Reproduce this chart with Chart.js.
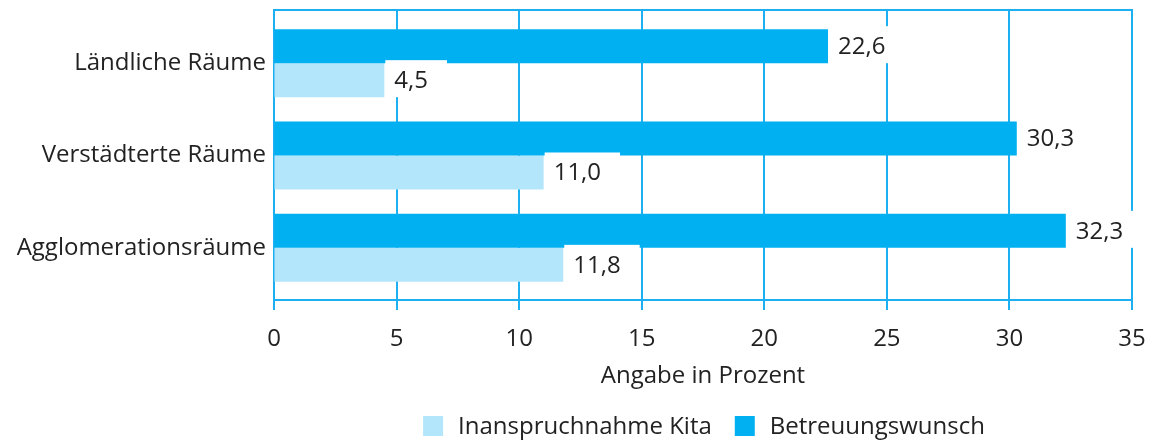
<!DOCTYPE html>
<html>
<head>
<meta charset="utf-8">
<script src="https://cdn.jsdelivr.net/npm/chart.js@4/dist/chart.umd.min.js"></script>
<style>
html, body { margin: 0; padding: 0; background: #fff; }
</style>
</head>
<body>
<canvas id="myChart" width="1152" height="441"></canvas>
<script>
const categories = ['Ländliche Räume', 'Verstädterte Räume', 'Agglomerationsräume'];
const betreuungswunsch = [22.6, 30.3, 32.3];
const inanspruchnahmeKita = [4.5, 11.0, 11.8];
const xTicks = [0, 5, 10, 15, 20, 25, 30, 35];

const gridColor = '#1cb0f2';
const textColor = '#222222';
const fontFamily = "'Open Sans', 'Noto Sans', sans-serif";
const fontSize = 24;

// frame + gridlines, a bit taller than the bar area
const framePlugin = {
    id: 'frame',
    beforeDatasetsDraw(chart) {
        const { ctx, chartArea: a, scales: { x } } = chart;
        const top = a.top - 7, bottom = a.bottom + 6;
        ctx.save();
        ctx.strokeStyle = gridColor;
        ctx.lineWidth = 2;
        ctx.beginPath();
        xTicks.forEach(v => {
            const px = Math.round(x.getPixelForValue(v));
            ctx.moveTo(px, top);
            ctx.lineTo(px, bottom + 10);
        });
        ctx.moveTo(a.left - 1, top);
        ctx.lineTo(a.right + 1, top);
        ctx.moveTo(a.left - 1, bottom);
        ctx.lineTo(a.right + 1, bottom);
        ctx.stroke();
        ctx.restore();
    }
};

// value labels on white boxes
const labelPlugin = {
    id: 'valueLabels',
    afterDatasetsDraw(chart) {
        const { ctx } = chart;
        ctx.save();
        ctx.font = fontSize + 'px ' + fontFamily;
        ctx.textBaseline = 'middle';
        [1, 0].forEach(i => {
            const ds = chart.data.datasets[i];
            chart.getDatasetMeta(i).data.forEach((bar, j) => {
                const txt = ds.data[j].toFixed(1).replace('.', ',');
                const w = ctx.measureText(txt).width;
                ctx.fillStyle = '#ffffff';
                ctx.fillRect(bar.x + 1, bar.y - 20, w + 28, 37);
                ctx.fillStyle = textColor;
                ctx.fillText(txt, bar.x + 10, bar.y + 1);
            });
        });
        ctx.restore();
    }
};

// legend below the axis title
const legendPlugin = {
    id: 'bottomLegend',
    afterDraw(chart) {
        const { ctx, chartArea: a } = chart;
        const order = [1, 0];
        const box = 20, gap = 15, itemGap = 23, yMid = 426;
        ctx.save();
        ctx.font = fontSize + 'px ' + fontFamily;
        ctx.textBaseline = 'middle';
        const widths = order.map(i => ctx.measureText(chart.data.datasets[i].label).width);
        const total = widths.reduce((s, w) => s + box + gap + w, 0) + itemGap * (order.length - 1);
        let xPos = (a.left + a.right) / 2 + 1 - total / 2;
        order.forEach((i, k) => {
            const ds = chart.data.datasets[i];
            ctx.fillStyle = ds.backgroundColor;
            ctx.fillRect(xPos, yMid - box / 2, box, box);
            ctx.fillStyle = textColor;
            ctx.fillText(ds.label, xPos + box + gap, yMid + 1);
            xPos += box + gap + widths[k] + itemGap;
        });
        ctx.restore();
    }
};

const ctx = document.getElementById('myChart').getContext('2d');

new Chart(ctx, {
    type: 'bar',
    data: {
        labels: categories,
        datasets: [{
            label: 'Betreuungswunsch',
            data: betreuungswunsch,
            backgroundColor: '#00b0f0'
        }, {
            label: 'Inanspruchnahme Kita',
            data: inanspruchnahmeKita,
            backgroundColor: '#b3e6fb'
        }]
    },
    options: {
        indexAxis: 'y',
        responsive: false,
        animation: false,
        categoryPercentage: 0.7365,
        barPercentage: 1,
        layout: { padding: { top: 17, right: 20, left: 0, bottom: 0 } },
        scales: {
            x: {
                min: 0,
                max: 35,
                afterBuildTicks: s => { s.ticks = xTicks.map(v => ({ value: v })); },
                afterFit: s => { s.height = 147; },
                grid: {
                    display: true,
                    drawOnChartArea: false,
                    drawTicks: true,
                    tickLength: 28,
                    color: 'rgba(0,0,0,0)'
                },
                border: { display: false },
                ticks: {
                    padding: 3,
                    maxRotation: 0,
                    color: textColor,
                    font: { family: fontFamily, size: fontSize }
                },
                title: {
                    display: true,
                    text: 'Angabe in Prozent',
                    color: textColor,
                    padding: { top: 4, bottom: 50 },
                    font: { family: fontFamily, size: fontSize }
                }
            },
            y: {
                afterFit: s => { s.width = 274; },
                grid: { display: false },
                border: { display: false },
                ticks: {
                    padding: 0,
                    color: textColor,
                    font: { family: fontFamily, size: fontSize }
                }
            }
        },
        plugins: {
            legend: { display: false },
            tooltip: { enabled: false }
        }
    },
    plugins: [framePlugin, labelPlugin, legendPlugin]
});
</script>
</body>
</html>
